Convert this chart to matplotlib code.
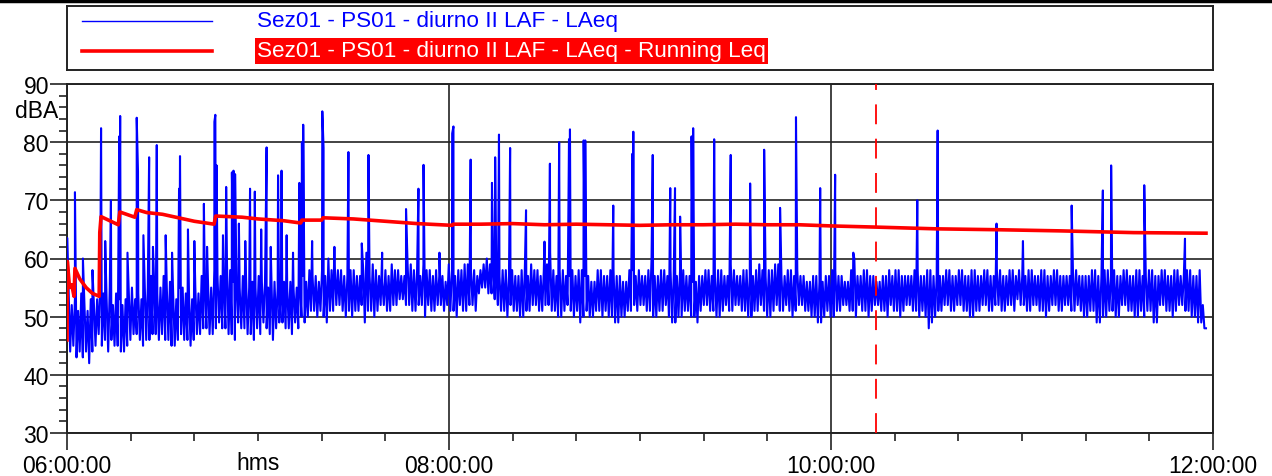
#!/usr/bin/env python3

import matplotlib.pyplot as plt
import numpy as np

plt.rcParams['font.family'] = ['Liberation Sans', 'DejaVu Sans']

# minute by minute low / high of the LAeq trace, minutes after 06:00:00
BLUE_LO = [46, 44, 45, 43, 44, 43, 44, 42, 44, 45, 47, 45, 46, 44, 46, 45, 45, 44, 44, 45,
           46, 47, 47, 46, 45, 46, 46, 47, 47, 46, 47, 46, 46, 45, 45, 46, 47, 46, 46, 45,
           46, 47, 47, 48, 48, 47, 47, 48, 49, 48, 48, 47, 47, 46, 49, 48, 48, 47, 47, 46,
           48, 47, 49, 48, 47, 46, 48, 49, 49, 48, 48, 47, 49, 48, 50, 49, 50, 51, 51, 50,
           51, 50, 49, 51, 51, 52, 52, 51, 50, 51, 50, 51, 51, 52, 49, 51, 51, 50, 51, 52,
           52, 51, 51, 52, 52, 53, 53, 52, 52, 51, 51, 52, 52, 50, 52, 51, 51, 52, 52, 51,
           52, 51, 51, 50, 52, 51, 51, 52, 52, 51, 54, 55, 55, 54, 54, 53, 52, 51, 51, 50,
           52, 51, 51, 50, 50, 51, 51, 52, 52, 51, 51, 52, 52, 51, 51, 50, 50, 51, 52, 51,
           50, 51, 49, 50, 51, 50, 50, 51, 51, 50, 51, 50, 50, 49, 49, 50, 50, 51, 51, 52,
           51, 52, 52, 51, 51, 50, 50, 51, 51, 52, 50, 49, 49, 50, 50, 51, 51, 50, 50, 49,
           51, 52, 52, 51, 51, 50, 50, 51, 52, 51, 51, 52, 52, 51, 51, 50, 50, 51, 51, 52,
           51, 50, 50, 51, 52, 51, 51, 52, 51, 50, 51, 52, 52, 51, 51, 50, 50, 49, 49, 50,
           51, 50, 50, 51, 51, 52, 52, 51, 51, 50, 52, 51, 51, 50, 51, 52, 52, 51, 51, 50,
           52, 51, 51, 50, 51, 52, 52, 51, 51, 50, 51, 50, 48, 49, 50, 51, 51, 52, 52, 51,
           51, 52, 52, 51, 51, 50, 50, 51, 51, 52, 52, 51, 51, 52, 52, 51, 51, 52, 52, 51,
           53, 52, 52, 51, 51, 52, 52, 51, 51, 50, 51, 52, 52, 51, 51, 52, 52, 51, 51, 52,
           51, 50, 50, 51, 51, 49, 49, 50, 50, 51, 51, 50, 50, 52, 52, 51, 51, 50, 50, 51,
           50, 51, 51, 49, 49, 52, 52, 51, 51, 50, 51, 52, 52, 51, 51, 50, 50, 49, 49, 48]
BLUE_HI = [55, 52, 53, 51, 54, 52, 51, 53, 52, 53, 56, 54, 53, 55, 52, 54, 53, 52, 53, 54,
           55, 53, 54, 53, 56, 55, 57, 56, 54, 55, 57, 55, 56, 54, 53, 55, 55, 54, 54, 53,
           55, 54, 57, 56, 56, 55, 58, 57, 57, 56, 59, 58, 56, 55, 55, 57, 57, 55, 56, 55,
           57, 56, 56, 55, 57, 56, 55, 54, 56, 55, 56, 55, 55, 56, 57, 56, 58, 57, 57, 56,
           58, 57, 60, 58, 59, 58, 58, 57, 57, 58, 58, 57, 57, 58, 61, 57, 59, 58, 57, 56,
           58, 57, 59, 58, 58, 57, 57, 59, 59, 58, 58, 57, 59, 58, 58, 57, 58, 57, 57, 56,
           59, 58, 57, 58, 58, 59, 59, 58, 58, 57, 58, 59, 60, 59, 59, 58, 57, 58, 58, 57,
           58, 57, 57, 58, 58, 57, 59, 58, 58, 57, 58, 59, 61, 58, 57, 58, 58, 57, 57, 58,
           57, 58, 58, 57, 57, 56, 56, 58, 58, 57, 57, 58, 58, 57, 57, 56, 56, 58, 58, 57,
           58, 57, 57, 58, 60, 57, 57, 58, 58, 57, 58, 57, 57, 58, 58, 57, 57, 56, 56, 57,
           57, 58, 58, 57, 57, 58, 58, 57, 57, 59, 58, 57, 57, 58, 58, 57, 57, 58, 59, 58,
           57, 58, 58, 59, 59, 57, 57, 58, 58, 57, 58, 57, 57, 56, 56, 57, 57, 56, 56, 57,
           57, 58, 58, 57, 57, 56, 56, 58, 60, 57, 57, 58, 58, 57, 57, 56, 56, 57, 57, 58,
           57, 58, 58, 57, 57, 57, 57, 58, 58, 57, 57, 58, 58, 57, 57, 57, 57, 58, 58, 57,
           57, 58, 58, 57, 57, 58, 58, 57, 57, 58, 58, 57, 57, 58, 58, 57, 57, 58, 58, 57,
           58, 57, 57, 58, 58, 57, 57, 58, 58, 57, 57, 58, 58, 57, 57, 57, 57, 58, 58, 57,
           57, 57, 57, 58, 58, 57, 57, 58, 58, 57, 58, 57, 57, 58, 58, 57, 57, 58, 58, 57,
           57, 58, 58, 57, 57, 58, 58, 57, 57, 58, 58, 57, 57, 58, 58, 57, 57, 58, 52, 48]

# short events on top of the background
SPIKE_T = [0.1, 2.5, 5.0, 8.0, 10.7, 12.0, 13.8, 16.4, 16.7, 19.0,
           21.9, 22.3, 24.0, 25.8, 27.0, 28.2, 31.0, 33.0, 35.2, 35.5,
           38.0, 40.0, 43.0, 44.0, 46.3, 46.6, 47.0, 49.0, 50.0, 51.8,
           52.3, 52.8, 54.0, 56.0, 57.5, 59.0, 61.0, 62.7, 64.0, 66.3,
           67.4, 69.0, 71.0, 73.0, 73.8, 74.2, 77.0, 80.2, 80.6, 84.0,
           88.4, 92.6, 94.7, 99.0, 106.5, 110.4, 112.0, 117.0, 121.0, 121.4,
           126.8, 133.5, 134.5, 135.7, 139.2, 144.2, 150.0, 151.7, 154.6, 157.7,
           158.0, 162.3, 162.8, 171.6, 177.6, 177.9, 184.0, 189.5, 191.0, 192.6,
           196.2, 196.7, 203.3, 208.5, 214.6, 219.0, 224.0, 229.0, 236.6, 241.3,
           247.0, 267.1, 273.5, 292.0, 300.3, 315.6, 325.4, 328.0, 338.4, 351.2]
SPIKE_V = [63.5, 71.4, 60.0, 58.0, 82.4, 63.0, 70.0, 81.0, 84.5, 61.0,
           84.2, 75.0, 64.0, 77.4, 62.0, 79.5, 64.0, 61.0, 72.0, 77.6,
           65.0, 63.0, 69.4, 62.0, 83.5, 84.7, 76.0, 64.0, 72.3, 74.8,
           75.1, 74.5, 66.0, 63.0, 72.0, 71.5, 65.0, 79.1, 62.0, 74.3,
           75.1, 64.0, 61.0, 73.0, 80.0, 83.0, 63.0, 85.3, 79.0, 62.0,
           78.3, 62.6, 77.8, 61.0, 68.5, 72.0, 76.1, 61.0, 81.5, 82.7,
           77.0, 73.0, 77.4, 81.3, 79.0, 68.3, 62.9, 76.3, 80.0, 80.5,
           82.2, 80.3, 80.3, 69.1, 78.0, 81.8, 77.8, 72.1, 72.1, 67.2,
           81.0, 82.4, 80.5, 77.8, 72.9, 78.7, 68.7, 84.3, 72.1, 74.4,
           61.0, 70.0, 82.0, 66.0, 63.0, 69.1, 71.7, 76.0, 72.6, 63.4]

# running Leq
RED_T = [0, 0.1, 0.8, 1.5, 2.2, 2.5, 4, 6, 8, 10.1,
         10.3, 10.7, 16.1, 16.6, 21.3, 21.9, 25, 30, 35, 40,
         46.2, 46.7, 55, 60, 68, 73.4, 73.8, 80, 80.4, 90,
         100, 110, 121, 121.4, 130, 140, 150, 160, 170, 180,
         190, 200, 210, 220, 230, 240, 254, 273, 292, 312,
         335, 357.8]
RED_V = [46, 59.5, 55, 55.5, 53.5, 58.3, 56.5, 55, 54, 53.5,
         64.5, 67.2, 65.8, 68, 67.1, 68.4, 67.9, 67.6, 67, 66.4,
         65.9, 67.3, 67.1, 66.8, 66.5, 66.1, 66.6, 66.6, 67.0, 66.8,
         66.4, 66.0, 65.7, 65.9, 65.9, 66.0, 65.8, 65.9, 65.8, 65.7,
         65.8, 65.8, 65.9, 65.8, 65.8, 65.6, 65.4, 65.1, 64.95, 64.75,
         64.45, 64.35]

CURSOR_T = 254.2
LABEL_BLUE = 'Sez01 - PS01 - diurno II LAF - LAeq'
LABEL_RED = 'Sez01 - PS01 - diurno II LAF - LAeq - Running Leq'
X_TICKS = [0, 120, 240, 360]
X_LABELS = ['06:00:00', '08:00:00', '10:00:00', '12:00:00']

W, H = 1272, 477
fig = plt.figure(figsize=(W / 100, H / 100), dpi=100)

# background trace: low then high within each minute, then the events
n = len(BLUE_LO)
base_t = np.arange(2 * n) * (357.8 / (2 * n - 1))
base_v = np.empty(2 * n)
base_v[0::2] = BLUE_LO
base_v[1::2] = BLUE_HI
t_all = np.concatenate([base_t, SPIKE_T])
v_all = np.concatenate([base_v, SPIKE_V])
order = np.argsort(t_all, kind='stable')
t_all, v_all = t_all[order], v_all[order]

ax = fig.add_axes([67 / W, 1 - 434 / H, (1213 - 67) / W, (434 - 85) / H])
ax.plot(t_all, v_all, color='#0000ff', lw=1.5, zorder=3)
ax.plot(RED_T, RED_V, color='#ff0000', lw=2.6, zorder=4)
ax.axvline(CURSOR_T, color='#ff0000', lw=1.3, dashes=(11, 8), zorder=5)

ax.set_xlim(0, 360)
ax.set_ylim(30, 90)
ax.set_yticks(range(30, 91, 10))
ax.set_yticks(range(30, 91, 2), minor=True)
ax.set_xticks(X_TICKS)
ax.set_xticklabels(X_LABELS)
ax.set_xticks(range(0, 361, 20), minor=True)
ax.grid(True, which='major', color='#222222', lw=1.2, zorder=1)
ax.tick_params(axis='both', which='major', labelsize=16.5, length=12, width=1.2, color='#222222')
ax.tick_params(axis='y', which='major', pad=1)
ax.tick_params(axis='x', which='major', pad=3)
ax.tick_params(axis='both', which='minor', length=6, width=1.2, color='#222222')
for s in ax.spines.values():
    s.set_linewidth(1.4)
    s.set_color('#222222')

ax.text(60, -0.085, 'hms', transform=ax.get_xaxis_transform(), ha='center', va='center', fontsize=16.5)
ax.text(-0.008, 85.4, 'dBA', transform=ax.get_yaxis_transform(), ha='right', va='center', fontsize=16.5)

# legend box above the plot
leg = fig.add_axes([67 / W, 1 - 71 / H, (1213 - 67) / W, 64 / H])
leg.set_xlim(0, 1146)
leg.set_ylim(64, 0)
leg.set_xticks([])
leg.set_yticks([])
for s in leg.spines.values():
    s.set_linewidth(1.4)
    s.set_color('#222222')
leg.plot([15, 145], [15, 15], color='#0000ff', lw=1.0)
leg.plot([15, 145], [45, 45], color='#ff0000', lw=2.6)
leg.text(190, 15, LABEL_BLUE, color='#0000ff', fontsize=16.2, va='center', ha='left')
leg.text(190, 45, LABEL_RED, color='white', fontsize=16.2, va='center', ha='left',
         bbox=dict(facecolor='#ff0000', edgecolor='none', pad=1.5))

# frame edge at the top
fig.add_artist(plt.Line2D([0, 1], [1 - 1.5 / H, 1 - 1.5 / H], color='black', lw=2.5))

fig.savefig('out.png', dpi=100)
